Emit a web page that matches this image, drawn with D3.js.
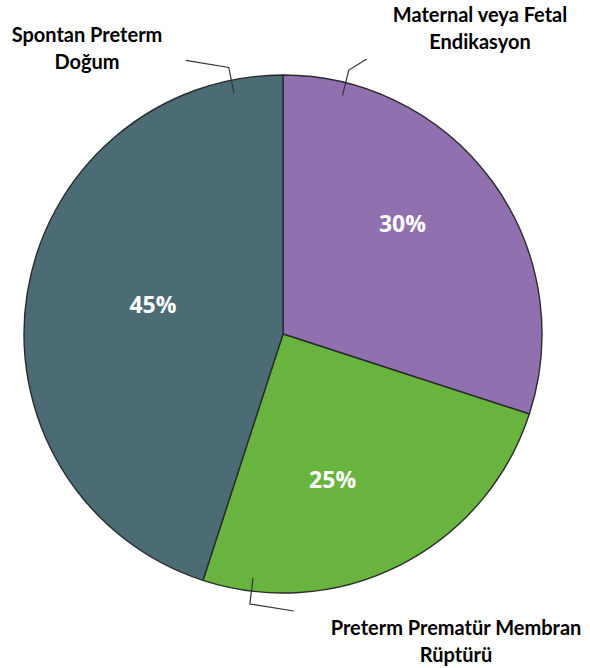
<!DOCTYPE html>
<html>
<head>
<meta charset="utf-8">
<script src="https://cdn.jsdelivr.net/npm/d3@7"></script>
<style>
  html, body { margin: 0; padding: 0; background: #ffffff; }
  svg { display: block; }
</style>
</head>
<body>
<div id="chart"></div>
<script>
// Preterm birth causes: share of each category
const categories = ["Maternal veya Fetal Endikasyon", "Preterm Prematür Membran Rüptürü", "Spontan Preterm Doğum"];
const values = [30, 25, 45];
const labelLines = [["Maternal veya Fetal", "Endikasyon"], ["Preterm Prematür Membran", "Rüptürü"], ["Spontan Preterm", "Doğum"]];
const colors = ["#9170b0", "#69b33f", "#4b6b75"];

const width = 590, height = 668;
const cx = 283, cy = 334, R = 259;

// label layout: category text anchor (center x, first baseline),
// leader angle (deg, clockwise from top) and leader tail offset
const catAnchor = [[480, 22], [456, 635], [87, 42]];
const leaderAngle = [14, 187, 348.5];
const leaderTail = [[18, -11], [44, 7], [-43, -7]];
const pctNudge = [[-10, -16], [-23, 3], [28, -4]];

const svg = d3.select("#chart").append("svg")
  .attr("width", width).attr("height", height);

const data = categories.map((c, i) => ({ name: c, value: values[i], lines: labelLines[i], color: colors[i], i }));

const pie = d3.pie().value(d => d.value).sort(null);
const arcs = pie(data);
const arc = d3.arc().innerRadius(0).outerRadius(R);
const labelArc = d3.arc().innerRadius(160).outerRadius(160);

const g = svg.append("g").attr("transform", `translate(${cx},${cy})`);

g.selectAll("path.slice").data(arcs).join("path")
  .attr("class", "slice")
  .attr("d", arc)
  .attr("fill", d => d.data.color)
  .attr("stroke", "#2b2b2b")
  .attr("stroke-width", 1.4)
  .attr("stroke-linejoin", "round");

// percentage labels
g.selectAll("text.pct").data(arcs).join("text")
  .attr("class", "pct")
  .attr("transform", d => {
    const [x, y] = labelArc.centroid(d);
    const n = pctNudge[d.data.i];
    return `translate(${x + n[0]},${y + n[1]})`;
  })
  .attr("text-anchor", "middle")
  .attr("dy", "0.36em")
  .attr("fill", "#ffffff")
  .style("font-family", "'Open Sans', sans-serif")
  .style("font-weight", 700)
  .style("font-size", "23px")
  .text(d => d.data.value + "%");

// leader lines
const polar = (r, deg) => {
  const a = deg * Math.PI / 180;
  return [Math.sin(a) * r, -Math.cos(a) * r];
};
g.selectAll("polyline.leader").data(data).join("polyline")
  .attr("class", "leader")
  .attr("points", d => {
    const p0 = polar(R - 13, leaderAngle[d.i]);
    const p1 = polar(R + 13, leaderAngle[d.i]);
    const p2 = [p1[0] + leaderTail[d.i][0], p1[1] + leaderTail[d.i][1]];
    return [p0, p1, p2].map(p => p.join(",")).join(" ");
  })
  .attr("fill", "none")
  .attr("stroke", "#333333")
  .attr("stroke-width", 1.2);

// category labels
const cat = svg.selectAll("text.cat").data(data).join("text")
  .attr("class", "cat")
  .attr("text-anchor", "middle")
  .attr("fill", "#000000")
  .style("font-family", "Lato, sans-serif")
  .style("font-weight", 700)
  .style("font-size", "20px");
cat.each(function(d) {
  const t = d3.select(this);
  const [x, y] = catAnchor[d.i];
  d.lines.forEach((line, k) => {
    t.append("tspan").attr("x", x).attr("y", y + k * 26.5).text(line);
  });
});
</script>
</body>
</html>
